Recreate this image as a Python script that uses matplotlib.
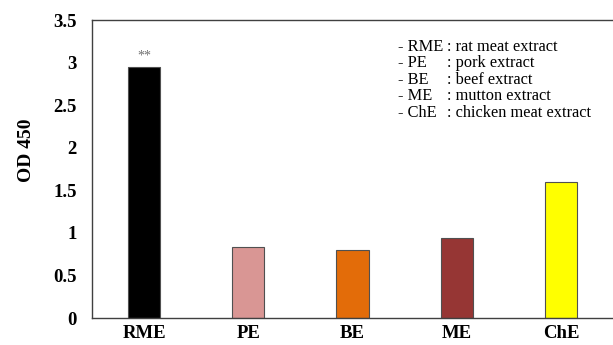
import matplotlib
matplotlib.use("Agg")
import matplotlib.pyplot as plt

# Values
categories = ['RME', 'PE', 'BE', 'ME', 'ChE']
od450 = [2.95, 0.84, 0.80, 0.94, 1.60]
bar_colors = ['#000000', '#d99694', '#e36c09', '#963634', '#ffff00']
yticks = [0, 0.5, 1, 1.5, 2, 2.5, 3, 3.5]
ytick_labels = ['0', '0.5', '1', '1.5', '2', '2.5', '3', '3.5']
legend_abbr = ['- RME', '- PE', '- BE', '- ME', '- ChE']
legend_desc = [': rat meat extract', ': pork extract', ': beef extract',
               ': mutton extract', ': chicken meat extract']

plt.rcParams['font.family'] = ['Liberation Serif', 'DejaVu Serif']

fig = plt.figure(figsize=(6.13, 3.45), dpi=100)
ax = fig.add_axes([0.150, 0.078, 0.850, 0.864])

x = range(len(categories))
ax.bar(x, od450, width=0.31, color=bar_colors, edgecolor='#505050', linewidth=0.8)

ax.set_xlim(-0.5, 4.5)
ax.set_ylim(0, 3.5)
ax.set_xticks(list(x))
ax.set_xticklabels(categories, fontsize=13.5, fontweight='bold')
ax.set_yticks(yticks)
ax.set_yticklabels(ytick_labels, fontsize=13.5, fontweight='bold')
ax.tick_params(axis='both', length=0)
ax.tick_params(axis='y', pad=11)
ax.tick_params(axis='x', pad=5)
ax.set_ylabel('OD 450', fontsize=14, fontweight='bold')
ax.yaxis.set_label_coords(-0.11, 0.564)

for side in ['left', 'bottom', 'top']:
    ax.spines[side].set_color('#404040')
    ax.spines[side].set_linewidth(1.0)
ax.spines['right'].set_visible(False)

# significance mark above RME
ax.annotate('**', (0, od450[0]), xytext=(0, 3), textcoords='offset points',
            ha='center', va='bottom', fontsize=10, color='#707070')

# text legend in the upper right
for i, (a, d) in enumerate(zip(legend_abbr, legend_desc)):
    ypx = 47 + i * 16.4
    yf = 1 - ypx / 345
    fig.text(398 / 613, yf, a, fontsize=11.8, va='center', ha='left')
    fig.text(447 / 613, yf, d, fontsize=11.8, va='center', ha='left')

fig.savefig('out.png', dpi=100)
